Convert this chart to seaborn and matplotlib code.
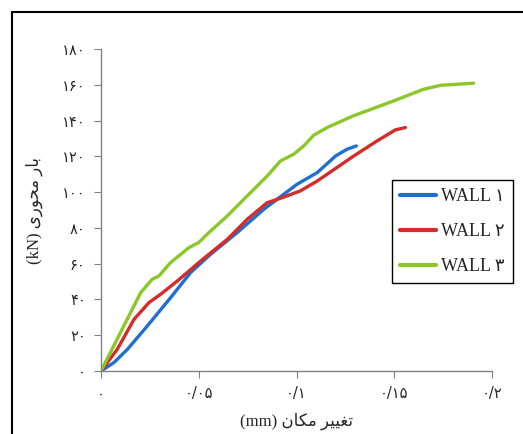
import matplotlib
matplotlib.use("Agg")
import matplotlib.pyplot as plt
import seaborn as sns
import pandas as pd
from matplotlib.lines import Line2D

# ---- data ----
wall1_x = [0.0, 0.0066, 0.0135, 0.0237, 0.0356, 0.0458, 0.056, 0.0697, 0.0833,
           0.0935, 0.1003, 0.1106, 0.120, 0.1259, 0.1306]
wall1_y = [0.0, 4.7, 12.1, 25.2, 41.0, 55.0, 65.2, 77.4, 90.4,
           98.8, 104.4, 110.9, 120.2, 124.0, 125.8]

wall2_x = [0.0, 0.0083, 0.0169, 0.0245, 0.0305, 0.039, 0.051, 0.0646, 0.0748,
           0.085, 0.0927, 0.102, 0.1106, 0.1293, 0.1412, 0.1506, 0.1557]
wall2_y = [0.0, 12.1, 28.9, 38.2, 42.9, 50.3, 61.5, 73.6, 84.8,
           94.1, 96.9, 100.7, 106.2, 120.2, 128.6, 134.8, 136.1]

wall3_x = [0.0, 0.0203, 0.0262, 0.0296, 0.0356, 0.045, 0.050, 0.0552, 0.0646,
           0.0748, 0.085, 0.0918, 0.0986, 0.1037, 0.1088, 0.1157, 0.129,
           0.1497, 0.165, 0.1736, 0.1906]
wall3_y = [0.0, 43.8, 51.3, 53.1, 60.6, 69.0, 71.8, 77.4, 86.7,
           97.9, 109.0, 117.4, 121.2, 125.8, 131.8, 136.1, 142.6,
           151.0, 157.5, 159.7, 160.9]

series_names = ["WALL \u06f1", "WALL \u06f2", "WALL \u06f3"]
series_colors = ["#1f6fd2", "#d42b2b", "#8cc629"]

y_ticks = [0, 20, 40, 60, 80, 100, 120, 140, 160, 180]
y_tick_labels = ["\u06f0", "\u06f2\u06f0", "\u06f4\u06f0", "\u06f6\u06f0", "\u06f8\u06f0",
                 "\u06f1\u06f0\u06f0", "\u06f1\u06f2\u06f0", "\u06f1\u06f4\u06f0",
                 "\u06f1\u06f6\u06f0", "\u06f1\u06f8\u06f0"]
x_ticks = [0.0, 0.05, 0.1, 0.15, 0.2]
x_tick_labels = ["\u06f0", "\u06f0/\u06f0\u06f5", "\u06f0/\u06f1",
                 "\u06f0/\u06f1\u06f5", "\u06f0/\u06f2"]

# Persian labels in visual (shaped, left-to-right) order
x_label = "(mm) " + "\uFEE5\uFE8E\uFEDC\uFEE3" + " " + "\uFEAE\uFEF4\uFEF4\uFED0\uFE97"
y_label = "(kN) " + "\uFEEF\uFEAD\uFEEE\uFEA4\uFEE3" + " " + "\uFEAD\uFE8E\uFE91"

frames = []
for name, xs, ys in zip(series_names, [wall1_x, wall2_x, wall3_x], [wall1_y, wall2_y, wall3_y]):
    frames.append(pd.DataFrame({"x": xs, "y": ys, "wall": name}))
df = pd.concat(frames, ignore_index=True)

sns.set_theme(style="white")
plt.rcParams["font.family"] = ["Liberation Serif", "DejaVu Sans"]

fig = plt.figure(figsize=(5.23, 4.34), dpi=100)
ax = fig.add_axes([101 / 523, 1 - 371 / 434, 391 / 523, 322 / 434])

sns.lineplot(data=df, x="x", y="y", hue="wall", palette=series_colors,
             sort=False, estimator=None, linewidth=2.4, ax=ax, legend=True)

ax.set_xlim(0, 0.2)
ax.set_ylim(0, 180)
ax.set_xticks(x_ticks)
ax.set_xticklabels(x_tick_labels, family=["DejaVu Sans"], fontsize=10.5)
ax.set_yticks(y_ticks)
ax.set_yticklabels(y_tick_labels, family=["DejaVu Sans"], fontsize=10.5)
ax.tick_params(axis="both", direction="out", length=5, width=0.8, color="#808080",
               left=True, bottom=True, pad=6)

for s in ["top", "right"]:
    ax.spines[s].set_visible(False)
for s in ["left", "bottom"]:
    ax.spines[s].set_color("#808080")
    ax.spines[s].set_linewidth(1.0)

ax.set_xlabel(x_label, family=["Liberation Serif", "DejaVu Sans"], fontsize=12, labelpad=8)
ax.set_ylabel(y_label, family=["Liberation Serif", "DejaVu Sans"], fontsize=12, labelpad=14)

handles, labels = ax.get_legend_handles_labels()
leg = ax.legend(handles, labels, loc="upper left",
                bbox_to_anchor=(392 / 523, 1 - 180 / 434), bbox_transform=fig.transFigure,
                frameon=True, fancybox=False, framealpha=1, edgecolor="black",
                prop={"family": ["Liberation Serif", "DejaVu Sans"], "size": 13},
                handlelength=2.0, handletextpad=0.25, labelspacing=1.0,
                borderpad=0.45, borderaxespad=0.0)
leg.get_frame().set_linewidth(1.0)
for h in leg.get_lines():
    h.set_linewidth(3)

# outer frame lines (top and left)
fig.add_artist(Line2D([11.5 / 523, 1.0], [1 - 11.5 / 434, 1 - 11.5 / 434],
                      transform=fig.transFigure, color="black", linewidth=1.5))
fig.add_artist(Line2D([11.5 / 523, 11.5 / 523], [0.0, 1 - 11.5 / 434],
                      transform=fig.transFigure, color="black", linewidth=1.5))

fig.savefig("out.png", dpi=100)
